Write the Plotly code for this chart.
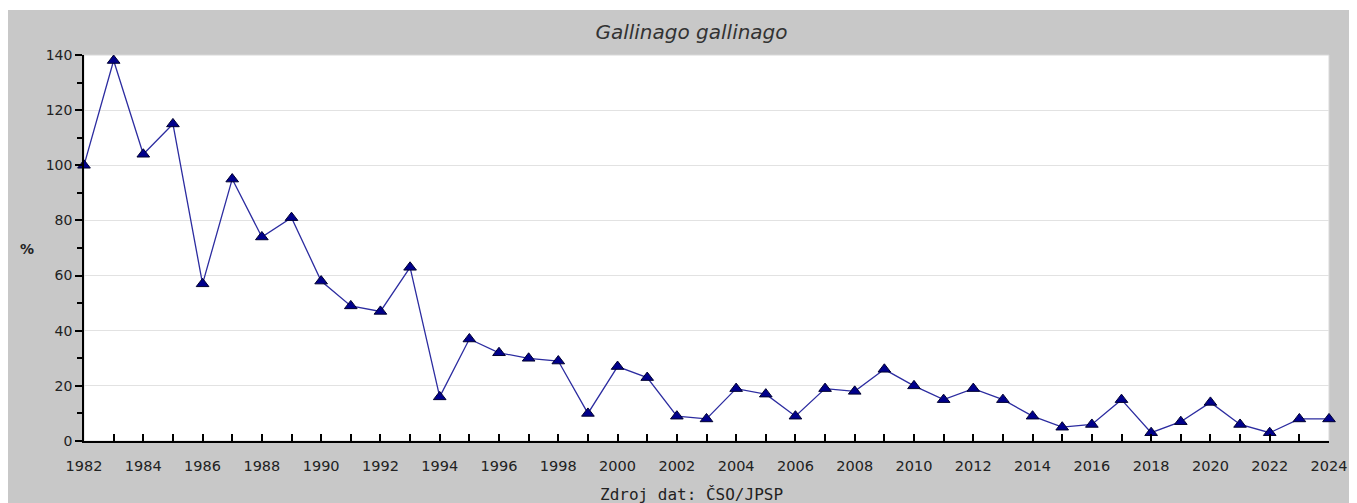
import plotly.graph_objects as go

# Data
years = list(range(1982, 2025))
index_pct = [100, 138, 104, 115, 57, 95, 74, 81, 58, 49, 47, 63, 16, 37, 32, 30, 29, 10,
             27, 23, 9, 8, 19, 17, 9, 19, 18, 26, 20, 15, 19, 15, 9, 5, 6, 15, 3, 7,
             14, 6, 3, 8, 8]
species = "Gallinago gallinago"
source_text = "Zdroj dat: ČSO/JPSP"

# page has an 8px body margin, so figure coords = screenshot coords - 8
W, H = 1357, 503
L, T = 76, 47
pw, ph = 1245, 386
R, B = W - L - pw, H - T - ph

def px_x(p):
    return (p - L) / pw

def px_y(p):
    return (T + ph - p) / ph

fig = go.Figure()
fig.add_trace(go.Scatter(
    x=years, y=index_pct, mode="lines+markers",
    line=dict(color="#2c2ca0", width=1.3),
    marker=dict(symbol="triangle-up", size=11, color="#00008b",
                line=dict(color="#000030", width=1)),
    showlegend=False, cliponaxis=False))

font = "DejaVu Sans, Verdana, sans-serif"

fig.update_layout(
    width=W, height=H,
    margin=dict(l=L, r=R, t=T, b=B),
    paper_bgcolor="#c8c8c8", plot_bgcolor="white",
    title=dict(text=species, x=(683 + 0.5) / W, xanchor="center", y=1 - 24 / H, yanchor="middle",
               font=dict(family=font, size=20, color="#333333", style="italic")),
    font=dict(family=font, size=14, color="#222222"),
)

fig.update_xaxes(range=[1982, 2024], dtick=2, tick0=1982, showgrid=False,
                 showline=True, linecolor="black", linewidth=1.5,
                 ticks="inside", ticklen=7, tickcolor="black", tickwidth=1.5,
                 ticklabelstandoff=11, zeroline=False, tickfont=dict(size=14.5),
                 minor=dict(dtick=1, tick0=1982, ticks="inside", ticklen=7,
                            tickcolor="black", tickwidth=1.5, showgrid=False))
fig.update_yaxes(range=[0, 140], dtick=20, showgrid=True, gridcolor="#e2e2e2",
                 showline=True, linecolor="black", linewidth=1.5,
                 ticks="outside", ticklen=7, tickcolor="black", tickwidth=1.5,
                 zeroline=False,
                 minor=dict(dtick=10, ticks="outside", ticklen=5,
                            tickcolor="black", tickwidth=1.5, showgrid=False))

# thin white strip on top of the grey panel, light frame of the plot area
fig.add_shape(type="rect", xref="paper", yref="paper", layer="below",
              x0=px_x(0), x1=px_x(W), y0=px_y(2), y1=px_y(0),
              fillcolor="white", line=dict(width=0))
fig.add_shape(type="rect", xref="paper", yref="paper", layer="below",
              x0=0, x1=1, y0=0, y1=1, line=dict(color="#d8d8d8", width=1))

fig.add_annotation(text="<b>%</b>", xref="paper", yref="paper",
                   x=px_x(19), y=px_y(241), showarrow=False,
                   xanchor="center", yanchor="middle",
                   font=dict(family=font, size=14, color="#222222"))
fig.add_annotation(text=source_text, xref="paper", yref="paper",
                   x=px_x(683), y=px_y(486), showarrow=False,
                   xanchor="center", yanchor="middle",
                   font=dict(family="DejaVu Sans Mono, monospace", size=16, color="#222222"))

fig.write_html("out.html")
